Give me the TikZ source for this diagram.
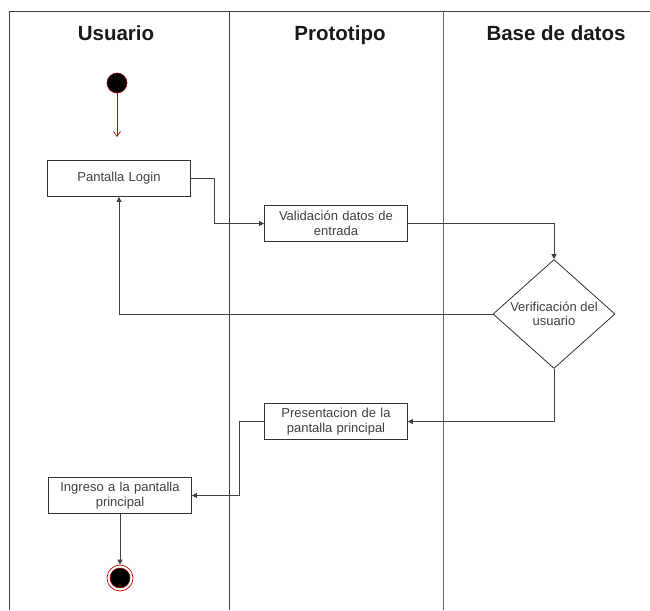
\documentclass[tikz,border=0pt]{standalone}
\usepackage{fontspec}
\setmainfont{Liberation Sans}
\usetikzlibrary{shapes.geometric,arrows.meta}
\begin{document}
\begin{tikzpicture}[x=1pt,y=-1pt,
  lane/.style={draw=black!75, line width=0.9pt},
  head/.style={font=\fontsize{20.5}{22}\selectfont\bfseries, text=black!90, anchor=base},
  box/.style={draw=black!80, line width=0.8pt, minimum width=143pt, minimum height=36pt, text width=138pt, align=center, inner sep=2pt, font=\fontsize{13}{14.5}\selectfont, text=black!75},
  conn/.style={draw=black!75, line width=0.8pt, -{Triangle[length=5pt,width=5pt]}}]
\useasboundingbox (0,0) rectangle (650,610);
% swimlanes
\draw[lane] (9,610) -- (9,11) -- (650,11);
\draw[lane] (229,11) -- (229,610);
\draw[lane, draw=black!60] (443,11) -- (443,610);
\node[head] (hU) at (116,41) {Usuario};
\node[head] (hP) at (340,41) {Prototipo};
\node[head] (hB) at (556,41) {Base de datos};
% start
\node[circle, fill=black, draw=red!60!black, line width=0.6pt, minimum size=20pt, inner sep=0] (start) at (117,83) {};
\coordinate (startend) at (117,137);
\draw[red!75!black, line width=0.7pt, -{Straight Barb[length=5pt,width=7pt]}] (start) -- (startend);
% boxes
\node[box] (login) at (119,178.5) {Pantalla Login\strut};
\node[box] (val) at (336,223.5) {Validación datos de\\entrada};
\node[diamond, draw=black!80, line width=0.8pt, minimum width=122pt, minimum height=109pt, inner sep=0,
  label={[align=center, font=\fontsize{13}{14.5}\selectfont, text=black!75]center:Verificación del\\usuario}] (dia) at (554,314) {};
\node[box] (pres) at (336,421.5) {Presentacion de la\\pantalla principal};
\node[box] (ing) at (120,495.5) {Ingreso a la pantalla\\principal};
% end
\node[circle, draw=red!80!black, line width=0.7pt, minimum size=26pt, inner sep=0] (end) at (120,578) {};
\fill[black, draw=red!60!black, line width=0.5pt] (end.center) circle (10);
% connectors
\draw[conn] (login.east) -- ++(23,0) |- (val.west);
\draw[conn] (val.east) -| (dia.north);
\draw[conn] (dia.west) -| (login.south);
\draw[conn] (dia.south) |- (pres.east);
\draw[conn] (pres.west) -- ++(-25,0) |- (ing.east);
\draw[conn] (ing.south) -- (end.north);
\end{tikzpicture}
\end{document}
